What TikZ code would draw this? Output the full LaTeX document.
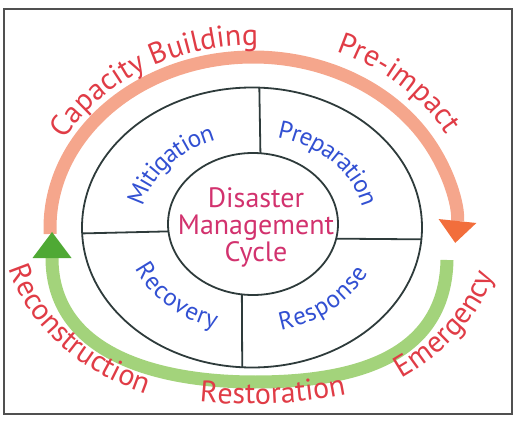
\documentclass[tikz,border=0pt]{standalone}
\usepackage{fontspec}
\setmainfont{PT Sans}
\usetikzlibrary{arrows.meta,shapes.geometric,decorations.text}
\definecolor{Frame}{HTML}{505050}
\definecolor{Ink}{HTML}{2E3B3B}
\definecolor{Salmon}{HTML}{F5A68C}
\definecolor{Orange}{HTML}{F26E3C}
\definecolor{LightGreen}{HTML}{A3D37B}
\definecolor{Green}{HTML}{4FA934}
\definecolor{Red}{HTML}{E03C46}
\definecolor{Blue}{HTML}{3250D2}
\definecolor{Crimson}{HTML}{D2326E}

\newcommand{\stagefont}{\fontsize{30}{32}\selectfont}
\newcommand{\phasefont}{\fontsize{25}{27}\selectfont}
\newcommand{\titlefont}{\fontsize{28}{27}\selectfont}

\begin{document}
\begin{tikzpicture}[x=1pt, y=1pt,
  ring/.style={draw=Ink, line width=1.8pt, ellipse, inner sep=0pt, outer sep=0pt},
  divider/.style={draw=Ink, line width=1.8pt},
  band/.style={line width=13pt},
  stagelabel/.style={decorate, decoration={text along path, text align=center, text={|\stagefont\color{Red}|#1}}},
  phaselabel/.style={decorate, decoration={text along path, text align=center, raise=-8pt, text={|\phasefont\color{Blue}|#1}}}]
\useasboundingbox (0,0) rectangle (517,421);
\draw[Frame, line width=2.8pt] (4,7) rectangle (512,412);

% centres of the arrows and of the ring
\coordinate (o) at (253,193);
\coordinate (g) at (250,193);
\coordinate (m) at (252.5,195);

% pre-impact arrow (orange) and post-impact arrow (green)
\draw[band, Salmon, -{Triangle[length=22pt, width=38pt, line width=0pt, color=Orange]}, shift={(o)}]
  (182:203 and 171) arc[start angle=182, end angle=-5, x radius=203, y radius=171];
\draw[band, LightGreen, -{Triangle[length=26pt, width=39pt, line width=0pt, color=Green]}]
  (447,161) .. controls (445,61) and (350,39) .. (255,39)
  .. controls (150,39) and (52,71) .. (52,189);

% the ring and its four quarters
\node[ring, minimum width=340pt, minimum height=280pt] (ring) at (252,193.5) {};
\node[ring, minimum width=170pt, minimum height=142pt] (hub) at (253,197) {};
\draw[divider] (hub.84) -- (ring.87);
\draw[divider] (hub.185) -- (ring.182);
\draw[divider] (hub.350) -- (ring.356);
\draw[divider] (hub.261) -- (ring.266);
\node[align=center, text=Crimson, font=\titlefont] (title) at (256,194) {Disaster\\Management\\Cycle};

% phases
\path[phaselabel=Mitigation, shift={(m)}] (178:120 and 99) arc[start angle=178, end angle=100, x radius=120, y radius=99];
\path[phaselabel=Preparation, shift={(m)}] (86:120 and 99) arc[start angle=86, end angle=2, x radius=120, y radius=99];
\path[phaselabel=Recovery, shift={(m)}] (186:120 and 99) arc[start angle=186, end angle=267, x radius=120, y radius=99];
\path[phaselabel=Response, shift={(m)}] (270:120 and 99) arc[start angle=270, end angle=350, x radius=120, y radius=99];

% stages round the arrows
\path[stagelabel=Capacity Building, shift={(o)}] (170:215 and 183) arc[start angle=170, end angle=72, x radius=215, y radius=183];
\path[stagelabel=Pre-impact, shift={(o)}] (92:222 and 190) arc[start angle=92, end angle=2, x radius=222, y radius=190];
\path[stagelabel=Emergency, shift={(g)}] (286:252 and 188) arc[start angle=286, end angle=372, x radius=252, y radius=188];
\path[stagelabel=Restoration, shift={(g)}] (240:300 and 176) arc[start angle=240, end angle=310, x radius=300, y radius=176];
\path[stagelabel=Reconstruction, shift={(g)}] (168:247 and 183) arc[start angle=168, end angle=264, x radius=247, y radius=183];
\end{tikzpicture}
\end{document}
